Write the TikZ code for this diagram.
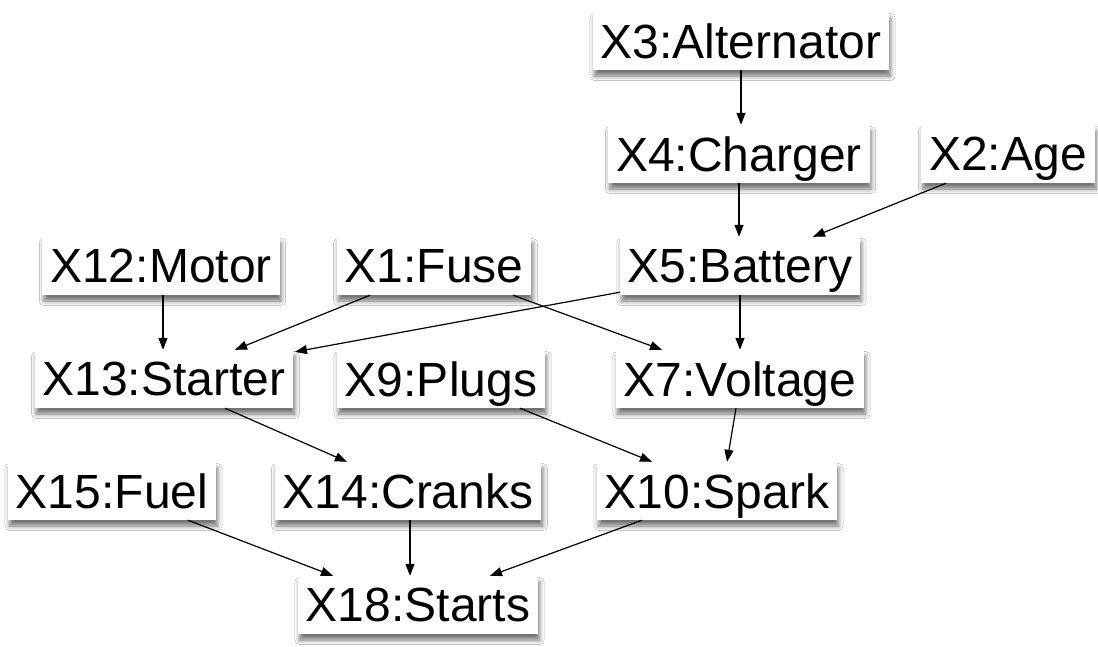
\documentclass[tikz,border=0pt]{standalone}
\usepackage{fontspec}
\setmainfont{Liberation Sans}
\usetikzlibrary{arrows.meta,shadows.blur}
\tikzset{
  var/.style={fill=white, inner xsep=8pt, inner ysep=0pt, minimum height=58pt,
    font=\fontsize{48}{48}\selectfont, text depth=0pt,
    blur shadow={shadow xshift=1.5pt, shadow yshift=-6pt, shadow blur steps=6, shadow blur radius=4.5pt, shadow opacity=55}},
  edge/.style={draw=black, line width=1.2pt, -{Triangle[length=12pt,width=9pt]}}
}
\begin{document}
\begin{tikzpicture}[x=1pt,y=-1pt]
\useasboundingbox[fill=white] (0,0) rectangle (1098,646);
\node[var] (alt) at (741,41) {X3:Alternator};
\node[var] (chg) at (739,154) {X4:Charger};
\node[var] (age) at (1008,154) {X2:Age};
\node[var] (mot) at (161,266) {X12:Motor};
\node[var] (fuse) at (434,266) {X1:Fuse};
\node[var] (bat) at (740,266) {X5:Battery};
\node[var] (sta) at (164,379) {X13:Starter};
\node[var] (plg) at (441,379) {X9:Plugs};
\node[var] (vol) at (740,379) {X7:Voltage};
\node[var] (fuel) at (112,491) {X15:Fuel};
\node[var] (crk) at (408,491) {X14:Cranks};
\node[var] (spk) at (717,491) {X10:Spark};
\node[var] (sts) at (418,605) {X18:Starts};

\draw[edge] (alt.south) -- (alt.south |- chg.north);
\draw[edge] (chg.south) -- (chg.south |- bat.north);
\draw[edge] ([xshift=-62pt]age.south) -- ([xshift=73pt]bat.north);
\draw[edge] ([xshift=2pt]mot.south) -- ([xshift=2pt]mot.south |- sta.north);
\draw[edge] ([xshift=-64pt]fuse.south) -- ([xshift=71pt]sta.north);
\draw[edge] ([xshift=-120pt,yshift=3pt]bat.south) -- ([xshift=131pt,yshift=-2pt]sta.north);
\draw[edge] ([xshift=79pt]fuse.south) -- ([xshift=-78pt]vol.north);
\draw[edge] (bat.south) -- (bat.south |- vol.north);
\draw[edge] ([xshift=61pt]sta.south) -- ([xshift=-61pt]crk.north);
\draw[edge] ([xshift=79pt]plg.south) -- ([xshift=-65pt]spk.north);
\draw[edge] ([xshift=-4pt]vol.south) -- ([xshift=10pt]spk.north);
\draw[edge] ([xshift=76pt]fuel.south) -- ([xshift=-85pt]sts.north);
\draw[edge] ([xshift=2pt]crk.south) -- ([xshift=2pt]crk.south |- sts.north);
\draw[edge] ([xshift=-75pt]spk.south) -- ([xshift=72pt]sts.north);
\end{tikzpicture}
\end{document}
